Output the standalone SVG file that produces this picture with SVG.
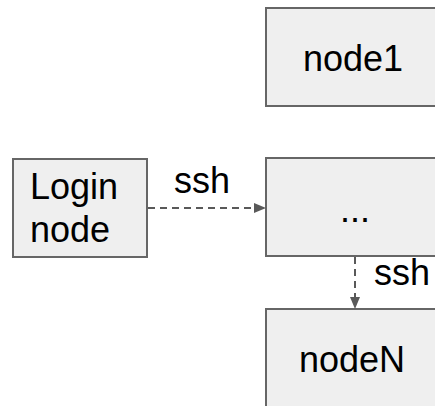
<svg xmlns="http://www.w3.org/2000/svg" width="435" height="406" viewBox="0 0 435 406">
<style>
.box{fill:#efefef;stroke:#666666;stroke-width:2}
.t{font-family:"Liberation Sans",Arial,sans-serif;font-size:36px;fill:#000000}
.c{stroke:#595959;stroke-width:2;stroke-dasharray:7,5;fill:none}
</style>
<defs>
<marker id="ah" viewBox="0 0 12 10" refX="0" refY="5" markerWidth="12" markerHeight="10" markerUnits="userSpaceOnUse" orient="auto">
<path d="M0,0 L12,5 L0,10 Z" fill="#595959"/>
</marker>
</defs>
<rect width="435" height="406" fill="#ffffff"/>
<g id="node1">
<rect class="box" x="266" y="8" width="180" height="98"/>
<text class="t" x="353" y="71" text-anchor="middle">node1</text>
</g>
<g id="login">
<rect class="box" x="13" y="159" width="134" height="98"/>
<text class="t" x="30" y="199">Login</text>
<text class="t" x="30" y="242">node</text>
</g>
<g id="dots">
<rect class="box" x="266" y="158" width="180" height="98"/>
<text class="t" x="355" y="222" text-anchor="middle">...</text>
</g>
<g id="nodeN">
<rect class="box" x="266" y="309" width="180" height="110"/>
<text class="t" x="352" y="372" text-anchor="middle">nodeN</text>
</g>
<g id="connectors">
<path class="c" d="M148,208 H254" marker-end="url(#ah)"/>
<text class="t" x="174" y="193">ssh</text>
<path class="c" d="M355,257 V297" marker-end="url(#ah)"/>
<text class="t" x="374" y="285">ssh</text>
</g>
</svg>
